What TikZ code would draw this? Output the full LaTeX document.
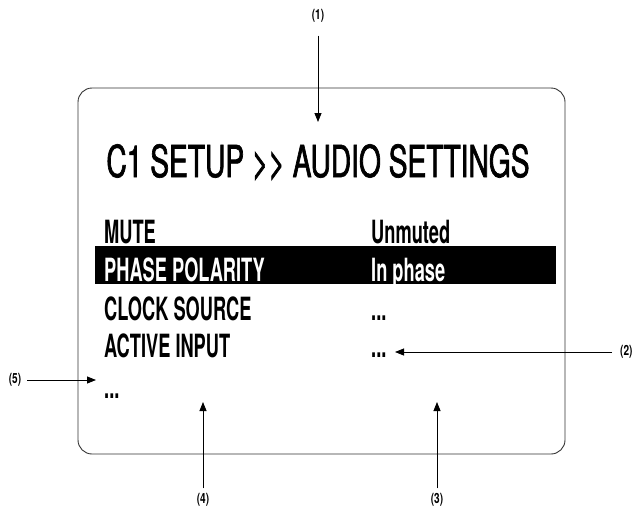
\documentclass[tikz,border=0pt]{standalone}
\usepackage{fontspec}
\setmainfont{TeX Gyre Heros}[FakeStretch=0.78]
\newfontfamily\menufont{TeX Gyre Heros}[FakeStretch=0.57]
\newfontfamily\titlefont{TeX Gyre Heros}[FakeStretch=0.64, FakeBold=1.5]
\newfontfamily\calloutfont{TeX Gyre Heros}[FakeStretch=0.72]
\usepackage{tikz}
\usetikzlibrary{shapes,arrows,arrows.meta,positioning,fit}

\begin{document}
\begin{tikzpicture}[x=1pt,y=-1pt]
	\tikzstyle{Screen}	= [draw=black!80, line width=0.9pt, rounded corners=14pt]
	\tikzstyle{Title}	= [anchor=base, inner sep=0pt, font=\titlefont\fontsize{44}{44}\selectfont]
	\tikzstyle{Item}	= [anchor=base west, inner sep=0pt, font=\menufont\bfseries\fontsize{32}{32}\selectfont]
	\tikzstyle{Inverse}	= [text=white]
	\tikzstyle{Callout}	= [inner sep=1pt, font=\calloutfont\bfseries\fontsize{14}{14}\selectfont]
	\tikzstyle{Pointer}	= [-{Triangle[length=9pt,width=7pt]}, line width=0.8pt]

	\useasboundingbox (0,0) rectangle (635,509);

	% display
	\draw [Screen] (78,88) rectangle (565,454);
	\fill (95,246) rectangle (556,284);

	\node (title) at (318,177) [Title] {C1 SETUP {>}{>} AUDIO SETTINGS};

	\node (mute)   at (104,243) [Item] {MUTE};
	\node (phase)  at (104,281) [Item][Inverse] {PHASE POLARITY};
	\node (clock)  at (104,320) [Item] {CLOCK SOURCE};
	\node (input)  at (104,357) [Item] {ACTIVE INPUT};
	\node (more)   at (104,398) [Item] {...};

	\node (vmute)  at (371,243) [Item] {Unmuted};
	\node (vphase) at (371,281) [Item][Inverse] {In phase};
	\node (vclock) at (371,320) [Item] {...};
	\node (vinput) at (371,357) [Item] {...};

	% callouts
	\node (c1) at (318,16)  [Callout] {(1)};
	\node (c2) at (619,352) [Callout, anchor=west] {(2)};
	\node (c3) at (437,500) [Callout] {(3)};
	\node (c4) at (203,500) [Callout] {(4)};
	\node (c5) at (15,380)  [Callout] {(5)};

	\coordinate (t1) at (318,122);
	\coordinate (t2) at (395,352);
	\coordinate (t3) at (437,402);
	\coordinate (t4) at (203,402);
	\coordinate (t5) at (96,380);

	\draw [Pointer, shorten <=12pt] (c1) to (t1);
	\draw [Pointer, shorten <=7pt]  (c2) to (t2);
	\draw [Pointer, shorten <=4pt]  (c3) to (t3);
	\draw [Pointer, shorten <=4pt]  (c4) to (t4);
	\draw [Pointer, shorten <=5pt]  (c5) to (t5);
\end{tikzpicture}
\end{document}
